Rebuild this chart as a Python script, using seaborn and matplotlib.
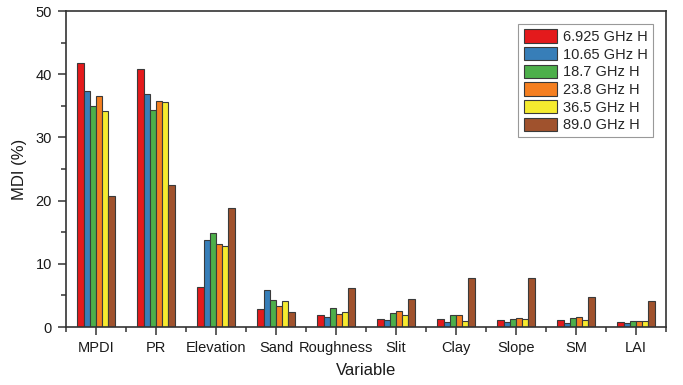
import matplotlib
matplotlib.use("Agg")
import matplotlib.pyplot as plt
from matplotlib.ticker import FixedLocator, MultipleLocator
import seaborn as sns
import pandas as pd

variables = ["MPDI", "PR", "Elevation", "Sand", "Roughness", "Slit",
             "Clay", "Slope", "SM", "LAI"]
frequencies = ["6.925 GHz H", "10.65 GHz H", "18.7 GHz H",
               "23.8 GHz H", "36.5 GHz H", "89.0 GHz H"]

mdi_6925 = [41.8, 40.9, 6.4, 2.8, 1.95, 1.3, 1.2, 1.15, 1.05, 0.85]
mdi_1065 = [37.3, 36.8, 13.8, 5.8, 1.6, 1.15, 0.85, 0.8, 0.7, 0.65]
mdi_187 = [35.0, 34.3, 14.9, 4.3, 3.0, 2.15, 1.95, 1.3, 1.5, 1.0]
mdi_238 = [36.5, 35.8, 13.2, 3.3, 2.1, 2.5, 1.95, 1.5, 1.6, 0.9]
mdi_365 = [34.2, 35.6, 12.8, 4.15, 2.4, 1.95, 0.95, 1.3, 1.15, 0.9]
mdi_890 = [20.7, 22.4, 18.8, 2.3, 6.25, 4.4, 7.8, 7.8, 4.7, 4.05]

colors = ["#E41A1C", "#377EB8", "#4DAF4A", "#F57F20", "#F5EB2F", "#A0522D"]

series = [mdi_6925, mdi_1065, mdi_187, mdi_238, mdi_365, mdi_890]
df = pd.DataFrame({
    "Variable": [v for _ in frequencies for v in variables],
    "Frequency": [f for f in frequencies for _ in variables],
    "MDI": [x for s in series for x in s],
})

sns.set_theme(style="ticks")
plt.rcParams["font.family"] = ["Liberation Sans", "DejaVu Sans"]

fig = plt.figure(figsize=(6.83, 3.85), dpi=100)
ax = fig.add_axes([0.0966, 0.1506, 0.8785, 0.8208])

sns.barplot(data=df, x="Variable", y="MDI", hue="Frequency",
            order=variables, hue_order=frequencies, palette=colors,
            saturation=1, width=0.62, edgecolor="#3a3a3a", linewidth=0.8,
            errorbar=None, ax=ax)

ax.set_xlim(-0.5, 9.5)
ax.set_ylim(0, 50)
ax.yaxis.set_major_locator(MultipleLocator(10))
ax.yaxis.set_minor_locator(MultipleLocator(5))
ax.xaxis.set_minor_locator(FixedLocator([i - 0.5 for i in range(11)]))

for s in ax.spines.values():
    s.set_visible(True)
    s.set_linewidth(1.2)
    s.set_color("#333333")

ax.tick_params(which="major", direction="out", length=6, width=1.1,
               color="#333333", labelsize=10.5, labelcolor="#1a1a1a", pad=4)
ax.tick_params(which="minor", direction="out", length=3.5, width=1.1,
               color="#333333")

ax.set_xlabel("Variable", fontsize=12, color="#1a1a1a", labelpad=6)
ax.set_ylabel("MDI (%)", fontsize=12, color="#1a1a1a", labelpad=6)

leg = ax.legend(loc="upper right", fontsize=10.5, frameon=True,
                fancybox=False, edgecolor="#999999", framealpha=1,
                handlelength=2.3, handleheight=1.05, labelspacing=0.2,
                handletextpad=0.4, borderpad=0.35, borderaxespad=0.9,
                title=None)
leg.get_frame().set_linewidth(0.8)

fig.savefig("out.png", dpi=100)
